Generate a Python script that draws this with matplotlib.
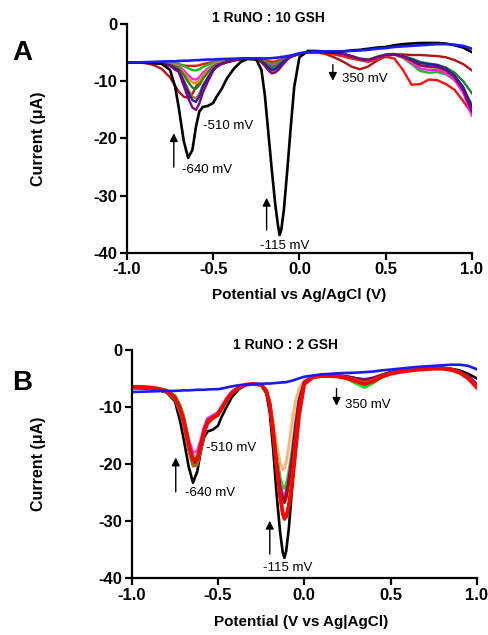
import numpy as np
import matplotlib
matplotlib.use("Agg")
import matplotlib.pyplot as plt

plt.rcParams['font.family'] = ['Liberation Sans', 'DejaVu Sans']

# potential grid (V) shared by all curves
potential = [-1.0, -0.95, -0.9, -0.85, -0.8,
             -0.75, -0.72, -0.7, -0.67, -0.645,
             -0.62, -0.6, -0.58, -0.56, -0.53,
             -0.5, -0.48, -0.45, -0.42, -0.38,
             -0.34, -0.3,
             -0.25, -0.22, -0.2, -0.18, -0.16,
             -0.14, -0.125, -0.115, -0.105, -0.09,
             -0.07, -0.05, -0.03, 0.0,
             0.05, 0.1, 0.15, 0.2, 0.25,
             0.3, 0.35, 0.4, 0.45, 0.5,
             0.55, 0.6, 0.65, 0.7, 0.75,
             0.8, 0.85, 0.9, 0.95, 1.0]

# ---- panel A : 1 RuNO : 10 GSH ----
a_black = [-6.7, -6.7, -6.7, -6.8, -6.9,
           -8.0, -11.0, -14.5, -20.5, -23.4,
           -22.0, -18.0, -15.3, -14.5, -14.3,
           -13.8, -12.7, -11.3, -9.5, -7.8,
           -6.6, -6.1,
           -6.2, -8.0, -12.5, -19.0, -25.5,
           -31.5, -35.0, -36.9, -36.0, -32.5,
           -25.5, -18.0, -11.0, -5.8,
           -4.7, -4.7, -4.8, -4.9, -4.8,
           -4.6, -4.5, -4.3, -4.1, -4.0,
           -3.7, -3.5, -3.4, -3.3, -3.3,
           -3.3, -3.4, -3.7, -4.1, -4.9]
a_blue = [-6.7, -6.7, -6.65, -6.6, -6.55,
          -6.5, -6.5, -6.45, -6.4, -6.4,
          -6.35, -6.3, -6.3, -6.25, -6.2,
          -6.2, -6.15, -6.1, -6.1, -6.05,
          -6.0, -6.0,
          -6.0, -6.0, -6.0, -6.0, -5.95,
          -5.9, -5.85, -5.8, -5.75, -5.7,
          -5.6, -5.5, -5.35, -5.1,
          -4.9, -4.8, -4.75, -4.75, -4.75,
          -4.7, -4.6, -4.5, -4.3, -4.2,
          -4.0, -3.9, -3.8, -3.7, -3.6,
          -3.5, -3.5, -3.6, -3.8, -4.3]
a_purple = [-6.7, -6.7, -6.7, -6.8, -6.9,
            -7.3, -8.0, -8.3, -10.8, -12.9,
            -14.6, -15.0, -13.9, -12.0, -10.0,
            -8.2, -7.5, -7.0, -6.7, -6.4,
            -6.1, -6.0,
            -6.1, -6.65, -7.3, -8.1, -8.6,
            -8.45, -8.1, -7.8, -7.4, -6.9,
            -6.2, -5.75, -5.5, -5.2,
            -4.9, -4.9, -5.0, -5.0, -5.2,
            -5.6, -6.1, -6.3, -5.8, -5.4,
            -5.3, -5.7, -6.4, -7.2, -7.4,
            -7.5, -8.1, -9.3, -11.6, -15.3]
a_navy = [-6.7, -6.7, -6.7, -6.8, -6.9,
          -7.2, -7.7, -8.1, -10.1, -11.9,
          -13.3, -13.6, -12.7, -11.0, -9.4,
          -7.9, -7.3, -6.9, -6.6, -6.35,
          -6.1, -6.0,
          -6.1, -6.5, -7.0, -7.6, -8.0,
          -7.85, -7.5, -7.2, -6.9, -6.5,
          -6.05, -5.7, -5.5, -5.2,
          -4.9, -4.9, -5.0, -5.0, -5.2,
          -5.6, -6.1, -6.3, -5.8, -5.4,
          -5.3, -5.6, -6.2, -6.8, -7.0,
          -7.2, -7.8, -9.0, -11.0, -14.5]
a_brown = [-6.7, -6.7, -6.7, -6.8, -6.85,
           -7.1, -7.65, -8.0, -9.8, -11.4,
           -12.7, -13.0, -12.2, -10.7, -9.2,
           -7.8, -7.2, -6.8, -6.6, -6.35,
           -6.1, -6.0,
           -6.1, -6.55, -7.1, -7.75, -8.2,
           -8.05, -7.65, -7.35, -7.0, -6.6,
           -6.1, -5.7, -5.5, -5.2,
           -4.9, -4.9, -5.0, -5.0, -5.2,
           -5.6, -6.1, -6.3, -5.8, -5.4,
           -5.3, -5.7, -6.5, -7.3, -7.5,
           -7.6, -8.2, -9.3, -11.3, -14.8]
a_dkgreen = [-6.7, -6.7, -6.7, -6.75, -6.8,
             -7.0, -7.4, -7.6, -8.9, -10.1,
             -11.1, -11.3, -10.7, -9.6, -8.4,
             -7.4, -7.0, -6.7, -6.5, -6.3,
             -6.1, -6.0,
             -6.1, -6.4, -6.75, -7.2, -7.5,
             -7.4, -7.1, -6.9, -6.6, -6.3,
             -5.95, -5.65, -5.45, -5.2,
             -4.9, -4.9, -5.0, -5.0, -5.2,
             -5.6, -6.0, -6.2, -5.7, -5.3,
             -5.2, -5.6, -6.0, -6.6, -6.9,
             -7.1, -7.6, -8.5, -10.0, -12.1]
a_orange = [-6.7, -6.7, -6.7, -6.75, -6.8,
            -6.9, -7.2, -7.4, -8.5, -9.5,
            -10.2, -10.4, -9.9, -9.0, -8.1,
            -7.2, -6.85, -6.6, -6.45, -6.3,
            -6.1, -6.0,
            -6.1, -6.45, -6.9, -7.45, -7.8,
            -7.7, -7.35, -7.1, -6.8, -6.45,
            -6.0, -5.7, -5.5, -5.2,
            -4.9, -4.9, -5.0, -5.0, -5.2,
            -5.6, -6.1, -6.3, -5.8, -5.4,
            -5.3, -5.7, -6.5, -7.3, -7.5,
            -7.6, -8.2, -9.3, -11.2, -14.5]
a_magenta = [-6.7, -6.7, -6.7, -6.75, -6.75,
             -6.85, -7.1, -7.25, -8.1, -8.9,
             -9.6, -9.7, -9.3, -8.5, -7.75,
             -7.05, -6.75, -6.55, -6.4, -6.25,
             -6.1, -6.0,
             -6.05, -6.3, -6.65, -7.05, -7.3,
             -7.2, -6.95, -6.75, -6.5, -6.25,
             -5.9, -5.65, -5.45, -5.2,
             -4.9, -4.9, -5.0, -5.0, -5.2,
             -5.6, -6.1, -6.4, -5.9, -5.4,
             -5.3, -5.8, -6.8, -7.8, -8.0,
             -8.0, -8.6, -9.8, -12.0, -16.0]
a_green = [-6.7, -6.7, -6.7, -6.7, -6.7,
           -6.75, -6.85, -6.9, -7.3, -7.7,
           -8.05, -8.1, -7.9, -7.5, -7.1,
           -6.7, -6.55, -6.45, -6.35, -6.25,
           -6.1, -6.0,
           -6.05, -6.25, -6.5, -6.8, -7.0,
           -6.9, -6.7, -6.55, -6.35, -6.15,
           -5.85, -5.6, -5.45, -5.2,
           -4.9, -4.9, -5.0, -5.0, -5.2,
           -5.6, -6.1, -6.4, -5.9, -5.4,
           -5.3, -5.9, -7.0, -8.2, -8.5,
           -8.4, -8.8, -9.8, -11.5, -14.0]
a_red = [-6.7, -6.7, -6.7, -6.75, -6.85,
         -7.0, -7.1, -7.15, -7.25, -7.3,
         -7.3, -7.3, -7.2, -7.0, -6.8,
         -6.6, -6.5, -6.4, -6.3, -6.2,
         -6.1, -6.0,
         -6.0, -6.15, -6.3, -6.5, -6.6,
         -6.55, -6.4, -6.3, -6.15, -6.0,
         -5.8, -5.55, -5.4, -5.2,
         -4.9, -5.0, -5.1, -5.3, -5.6,
         -6.0, -6.3, -6.6, -6.2, -5.7,
         -6.0, -8.0, -10.6, -10.5, -9.7,
         -9.8, -10.5, -11.5, -13.5, -15.6]
a_darkred = [-6.7, -6.7, -6.8, -7.1, -7.8,
             -9.3, -10.8, -11.8, -12.7, -12.9,
             -12.2, -11.0, -9.9, -9.0, -8.0,
             -7.3, -7.0, -6.7, -6.5, -6.3,
             -6.1, -6.0,
             -6.05, -6.3, -6.6, -6.95, -7.2,
             -7.1, -6.85, -6.65, -6.45, -6.2,
             -5.9, -5.6, -5.45, -5.2,
             -4.8, -4.9, -5.2, -5.8, -6.5,
             -7.4, -7.9, -7.4, -6.4, -5.6,
             -5.3, -5.3, -5.4, -5.4, -5.5,
             -5.6, -5.8, -6.3, -7.0, -8.1]

# ---- panel B : 1 RuNO : 2 GSH ----
b_black = [-6.7, -6.7, -6.8, -7.0, -7.4,
           -9.0, -12.5, -15.5, -20.5, -23.3,
           -21.3, -17.8, -15.3, -14.3, -14.0,
           -13.3, -11.8, -10.0, -8.3, -6.9,
           -6.2, -6.0,
           -6.2, -7.6, -11.0, -17.5, -25.5,
           -32.0, -35.5, -36.5, -35.3, -31.5,
           -24.0, -16.0, -10.0, -5.5,
           -4.7, -4.5, -4.5, -4.6, -4.7,
           -5.0, -5.3, -5.0, -4.4, -3.9,
           -3.6, -3.4, -3.3, -3.2, -3.1,
           -3.1, -3.3, -3.6, -4.2, -5.0]
b_blue = [-7.4, -7.35, -7.3, -7.25, -7.2,
          -7.2, -7.15, -7.1, -7.1, -7.05,
          -7.0, -7.0, -7.0, -6.95, -6.9,
          -6.9, -6.8, -6.6, -6.4, -6.2,
          -6.1, -6.0,
          -5.95, -5.9, -5.9, -5.85, -5.8,
          -5.75, -5.7, -5.7, -5.65, -5.55,
          -5.4, -5.2, -5.0, -4.7,
          -4.5, -4.3, -4.2, -4.1, -4.05,
          -4.0, -3.9, -3.8, -3.6, -3.45,
          -3.3, -3.15, -3.0, -2.9, -2.8,
          -2.7, -2.6, -2.6, -2.8, -3.4]
b_peach = [-6.5, -6.5, -6.6, -6.8, -7.1,
           -8.1, -9.9, -11.8, -16.0, -18.6,
           -18.6, -16.3, -13.8, -12.2, -11.5,
           -10.9, -9.9, -8.5, -7.4, -6.5,
           -6.1, -6.0,
           -6.1, -7.0, -9.0, -12.5, -16.5,
           -19.8, -21.0, -20.8, -19.8, -17.0,
           -12.5, -8.8, -6.8, -5.3,
           -4.7, -4.5, -4.5, -4.6, -4.9,
           -5.3, -5.7, -5.3, -4.6, -4.1,
           -3.8, -3.6, -3.4, -3.3, -3.2,
           -3.2, -3.4, -3.9, -4.8, -6.3]
b_green = [-6.4, -6.4, -6.5, -6.7, -7.0,
           -8.0, -9.7, -11.5, -15.8, -18.6,
           -19.0, -17.0, -14.3, -12.5, -11.6,
           -11.0, -10.2, -8.8, -7.6, -6.6,
           -6.1, -6.0,
           -6.1, -7.1, -9.2, -13.5, -18.5,
           -22.3, -24.0, -24.3, -23.6, -21.5,
           -17.5, -12.5, -8.5, -5.6,
           -4.7, -4.5, -4.5, -4.7, -5.1,
           -5.9, -6.6, -5.8, -4.8, -4.2,
           -3.9, -3.7, -3.5, -3.4, -3.3,
           -3.3, -3.5, -4.0, -4.9, -6.2]
b_magenta = [-6.6, -6.6, -6.7, -6.9, -7.3,
             -8.4, -10.2, -12.0, -15.8, -18.0,
             -17.8, -15.8, -13.5, -12.0, -11.5,
             -11.0, -10.0, -8.5, -7.3, -6.5,
             -6.1, -6.0,
             -6.1, -7.2, -9.5, -14.2, -19.5,
             -23.5, -25.3, -25.6, -24.8, -22.5,
             -18.3, -13.0, -8.8, -5.6,
             -4.6, -4.5, -4.5, -4.6, -4.8,
             -5.2, -5.5, -5.1, -4.5, -4.0,
             -3.8, -3.6, -3.4, -3.3, -3.2,
             -3.2, -3.4, -3.9, -4.8, -6.3]
b_purple = [-6.7, -6.7, -6.8, -7.0, -7.4,
            -8.6, -10.6, -12.6, -16.8, -19.3,
            -19.0, -16.6, -14.0, -12.4, -11.8,
            -11.3, -10.3, -8.8, -7.5, -6.6,
            -6.1, -6.0,
            -6.1, -7.3, -9.7, -14.6, -20.0,
            -24.2, -26.0, -26.3, -25.5, -23.0,
            -18.8, -13.4, -9.0, -5.7,
            -4.6, -4.4, -4.4, -4.5, -4.7,
            -5.0, -5.2, -4.9, -4.4, -4.0,
            -3.7, -3.5, -3.4, -3.3, -3.2,
            -3.2, -3.4, -3.8, -4.6, -6.0]
b_darkred = [-6.6, -6.6, -6.7, -6.9, -7.3,
             -8.6, -10.7, -12.8, -17.2, -19.9,
             -19.6, -17.0, -14.4, -12.7, -12.0,
             -11.4, -10.4, -8.9, -7.6, -6.6,
             -6.1, -6.0,
             -6.1, -7.3, -9.8, -14.8, -20.3,
             -24.6, -26.5, -26.8, -26.0, -23.5,
             -19.2, -13.8, -9.2, -5.8,
             -4.7, -4.5, -4.5, -4.6, -4.8,
             -5.2, -5.6, -5.2, -4.5, -4.0,
             -3.8, -3.6, -3.4, -3.3, -3.2,
             -3.2, -3.4, -3.9, -4.8, -6.4]
b_brown = [-6.6, -6.6, -6.7, -6.9, -7.3,
           -8.7, -10.9, -13.0, -17.6, -20.4,
           -20.2, -17.6, -14.8, -13.0, -12.1,
           -11.5, -10.5, -9.0, -7.7, -6.7,
           -6.1, -6.0,
           -6.1, -7.3, -9.8, -15.0, -21.0,
           -26.0, -29.0, -29.8, -29.3, -27.0,
           -22.5, -16.5, -11.0, -6.0,
           -4.7, -4.5, -4.5, -4.6, -4.9,
           -5.3, -5.7, -5.3, -4.6, -4.1,
           -3.8, -3.6, -3.4, -3.3, -3.2,
           -3.2, -3.4, -3.9, -4.8, -6.4]
b_red = [-6.5, -6.5, -6.6, -6.8, -7.2,
         -8.3, -10.2, -12.2, -16.5, -19.3,
         -19.2, -16.8, -14.2, -12.6, -11.9,
         -11.3, -10.3, -8.8, -7.6, -6.6,
         -6.1, -6.0,
         -6.1, -7.2, -9.5, -14.5, -20.5,
         -25.5, -28.5, -29.5, -29.3, -27.5,
         -23.5, -17.5, -11.5, -6.0,
         -4.8, -4.6, -4.6, -4.7, -5.0,
         -5.5, -6.0, -5.5, -4.7, -4.2,
         -3.9, -3.7, -3.5, -3.4, -3.3,
         -3.3, -3.5, -4.0, -5.0, -6.6]

fig = plt.figure(figsize=(4.88, 6.35), dpi=100)
axA = fig.add_axes([0.260, 0.602, 0.707, 0.360])
axB = fig.add_axes([0.270, 0.090, 0.707, 0.359])

# panel A curves (colour, data, width)
curvesA = [('#b01515', a_darkred, 1.7), ('#ff1010', a_red, 1.7),
           ('#10c010', a_green, 1.7), ('#ff20ff', a_magenta, 1.7),
           ('#ff8c00', a_orange, 1.7), ('#1e8a1e', a_dkgreen, 1.7),
           ('#b8760a', a_brown, 1.7), ('#2020a0', a_navy, 1.7),
           ('#800080', a_purple, 1.7), ('black', a_black, 1.9),
           ('#1a1aff', a_blue, 1.9)]
for c, y, lw in curvesA:
    axA.plot(potential, y, color=c, lw=lw)

curvesB = [('black', b_black, 1.9), ('#ffb27a', b_peach, 2.1),
           ('#10e010', b_green, 2.1), ('#e040e0', b_magenta, 2.1),
           ('#800080', b_purple, 2.1), ('#a01010', b_darkred, 2.1),
           ('#a06a10', b_brown, 2.1), ('#ff0000', b_red, 2.7),
           ('#1a1aff', b_blue, 1.9)]
for c, y, lw in curvesB:
    axB.plot(potential, y, color=c, lw=lw)

for ax in (axA, axB):
    ax.set_xlim(-1.0, 1.0)
    ax.set_ylim(-40, 0)
    ax.set_xticks([-1.0, -0.5, 0.0, 0.5, 1.0])
    ax.set_xticklabels(['-1.0', '-0.5', '0.0', '0.5', '1.0'])
    ax.set_yticks([0, -10, -20, -30, -40])
    ax.set_yticklabels(['0', '-10', '-20', '-30', '-40'])
    for s in ('top', 'right'):
        ax.spines[s].set_visible(False)
    for s in ('left', 'bottom'):
        ax.spines[s].set_linewidth(1.6)
    ax.tick_params(direction='out', length=5, width=1.6, labelsize=12, pad=2)
    for lab in ax.get_xticklabels() + ax.get_yticklabels():
        lab.set_fontweight('bold')
    ax.set_ylabel('Current (μA)', fontsize=11.5, fontweight='bold')

axA.yaxis.set_label_coords(-0.235, 0.5)
axB.yaxis.set_label_coords(-0.25, 0.5)
axA.set_xlabel('Potential vs Ag/AgCl (V)', fontsize=11, fontweight='bold')
axB.set_xlabel('Potential (V vs Ag|AgCl)', fontsize=11, fontweight='bold')
axA.xaxis.set_label_coords(0.5, -0.155)
axB.xaxis.set_label_coords(0.49, -0.165)

fig.text(0.549, 0.972, '1 RuNO : 10 GSH', ha='center', va='center', fontsize=10, fontweight='bold')
fig.text(0.584, 0.457, '1 RuNO : 2 GSH', ha='center', va='center', fontsize=10, fontweight='bold')
fig.text(0.045, 0.917, 'A', ha='center', va='center', fontsize=20, fontweight='bold')
fig.text(0.045, 0.397, 'B', ha='center', va='center', fontsize=20, fontweight='bold')

arrow = dict(arrowstyle='-|>', color='black', lw=1.0, mutation_scale=12)
fs = 9.5

# panel A annotations
axA.text(-0.559, -17.8, '-510 mV', fontsize=fs, va='center')
axA.text(-0.681, -25.5, '-640 mV', fontsize=fs, va='center')
axA.annotate('', xy=(-0.728, -18.6), xytext=(-0.728, -25.5), arrowprops=arrow)
axA.text(-0.229, -38.9, '-115 mV', fontsize=fs, va='center')
axA.annotate('', xy=(-0.19, -29.9), xytext=(-0.19, -36.5), arrowprops=arrow)
axA.annotate('', xy=(0.194, -10.4), xytext=(0.194, -6.6), arrowprops=arrow)
axA.text(0.246, -9.6, '350 mV', fontsize=fs, va='center')

# panel B annotations
axB.text(-0.567, -17.2, '-510 mV', fontsize=fs, va='center')
axB.text(-0.693, -25.1, '-640 mV', fontsize=fs, va='center')
axB.annotate('', xy=(-0.745, -18.4), xytext=(-0.745, -25.4), arrowprops=arrow)
axB.text(-0.24, -38.2, '-115 mV', fontsize=fs, va='center')
axB.annotate('', xy=(-0.2, -29.5), xytext=(-0.2, -36.3), arrowprops=arrow)
axB.annotate('', xy=(0.187, -10.3), xytext=(0.187, -6.3), arrowprops=arrow)
axB.text(0.235, -9.6, '350 mV', fontsize=fs, va='center')

fig.savefig('out.png', dpi=100)
